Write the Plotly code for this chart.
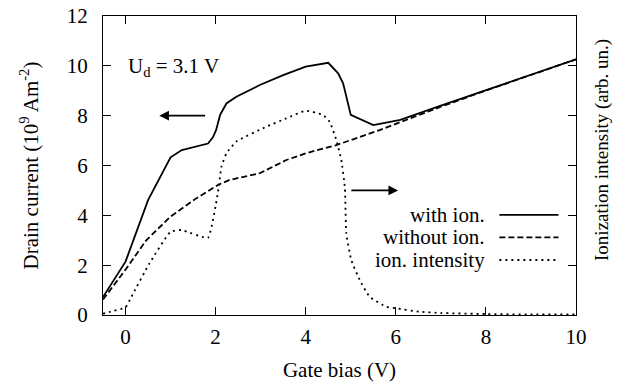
import plotly.graph_objects as go

# Gate bias (V) and drain current (10^9 A/m^2) with impact ionization
x_with = [-0.5, 0.0, 0.5, 1.0, 1.25, 1.57, 1.83, 1.94, 2.01, 2.1, 2.24, 2.46, 2.98, 3.5, 4.0, 4.5, 4.72, 4.83, 5.0, 5.5, 6.1, 7.0, 8.0, 9.0, 10.0]
y_with = [0.72, 2.14, 4.61, 6.33, 6.62, 6.78, 6.88, 7.13, 7.42, 8.03, 8.49, 8.76, 9.23, 9.63, 9.97, 10.12, 9.7, 9.3, 8.03, 7.62, 7.83, 8.40, 9.03, 9.64, 10.26]

# Drain current without ionization
x_without = [-0.5, 0.0, 0.46, 1.0, 1.57, 2.05, 2.31, 2.98, 3.57, 4.0, 4.68, 5.64, 6.1, 7.0, 8.0, 9.0, 10.0]
y_without = [0.62, 1.82, 3.0, 3.95, 4.68, 5.22, 5.42, 5.69, 6.22, 6.49, 6.82, 7.42, 7.74, 8.36, 9.01, 9.64, 10.26]

# Ionization intensity (arbitrary units)
x_ion = [-0.5, -0.36, 0.0, 0.13, 0.53, 1.0, 1.24, 1.83, 2.01, 2.05, 2.13, 2.24, 2.46, 3.13, 3.57, 4.0, 4.38, 4.53, 4.68, 4.79, 4.87, 4.9, 5.01, 5.2, 5.42, 5.79, 6.0, 6.53, 7.0, 8.0, 9.0, 10.0]
y_ion = [0.05, 0.12, 0.31, 0.73, 2.07, 3.34, 3.41, 3.1, 4.48, 4.9, 5.95, 6.49, 6.96, 7.56, 7.89, 8.2, 8.03, 7.76, 7.02, 6.22, 5.1, 3.28, 2.21, 1.4, 0.73, 0.33, 0.27, 0.13, 0.08, 0.04, 0.02, 0.02]

legend_names = ["with ion.", "without ion.", "ion. intensity"]
x_ticks = [0, 2, 4, 6, 8, 10]
y_ticks = [0, 2, 4, 6, 8, 10, 12]

FONT = "Liberation Serif"
FS = 21
dash_styles = ["solid", "6px,3px", "2px,4px"]

fig = go.Figure()
fig.add_trace(go.Scatter(x=x_with, y=y_with, mode="lines", name=legend_names[0],
                         line=dict(color="black", width=1.8, dash=dash_styles[0])))
fig.add_trace(go.Scatter(x=x_without, y=y_without, mode="lines", name=legend_names[1],
                         line=dict(color="black", width=1.8, dash=dash_styles[1])))
fig.add_trace(go.Scatter(x=x_ion, y=y_ion, mode="lines", name=legend_names[2], yaxis="y2",
                         line=dict(color="black", width=1.8, dash=dash_styles[2], shape="spline", smoothing=0.4)))

# hand-drawn key: text right-aligned with a sample line to its right
for i, (name, dash) in enumerate(zip(legend_names, dash_styles)):
    yk = 0.335 - i * 0.0755
    fig.add_annotation(xref="paper", yref="paper", x=0.812, y=yk, text=name, showarrow=False,
                       xanchor="right", yanchor="middle", font=dict(family=FONT, size=FS, color="black"))
    fig.add_shape(type="line", xref="paper", yref="paper", x0=0.838, x1=0.963, y0=yk, y1=yk,
                  line=dict(color="black", width=1.8, dash=dash))

# arrows pointing to the relevant axis
fig.add_annotation(x=0.75, y=8, ax=1.8, ay=8, xref="x", yref="y", axref="x", ayref="y",
                   text="", showarrow=True, arrowhead=2, arrowsize=1.2, arrowwidth=1.6, arrowcolor="black")
fig.add_annotation(x=6.05, y=5, ax=4.98, ay=5, xref="x", yref="y", axref="x", ayref="y",
                   text="", showarrow=True, arrowhead=2, arrowsize=1.2, arrowwidth=1.6, arrowcolor="black")

fig.add_annotation(x=0.0, y=9.95, xref="x", yref="y", text="U<sub>d</sub> = 3.1 V", showarrow=False,
                   xanchor="left", yanchor="middle", font=dict(family=FONT, size=FS, color="black"))

fig.add_annotation(xref="paper", yref="paper", x=1.055, y=0.552, text="Ionization intensity (arb. un.)",
                   showarrow=False, textangle=-90, xanchor="center", yanchor="middle",
                   font=dict(family=FONT, size=19, color="black"))

axis_common = dict(showgrid=False, zeroline=False, showline=True, linecolor="black", linewidth=1,
                   ticks="inside", ticklen=8, tickcolor="black", tickwidth=1, automargin=False,
                   tickfont=dict(family=FONT, size=FS, color="black"))

fig.update_layout(
    width=619, height=385,
    margin=dict(l=103, r=43, t=16, b=70),
    paper_bgcolor="white", plot_bgcolor="white",
    showlegend=False,
    font=dict(family=FONT, size=FS, color="black"),
    xaxis=dict(range=[-0.5, 10], tickvals=x_ticks, mirror="ticks", ticklabelstandoff=3,
               title=dict(text="Gate bias (V)", font=dict(family=FONT, size=FS), standoff=14),
               **axis_common),
    yaxis=dict(range=[0, 12], tickvals=y_ticks, mirror=True, ticklabelstandoff=10,
               title=dict(text="Drain current (10<sup>9</sup> Am<sup>-2</sup>)", font=dict(family=FONT, size=FS), standoff=22),
               **axis_common),
    yaxis2=dict(range=[0, 12], tickvals=y_ticks, overlaying="y", side="right", showticklabels=False,
                **axis_common),
)

fig.write_html("out.html")
